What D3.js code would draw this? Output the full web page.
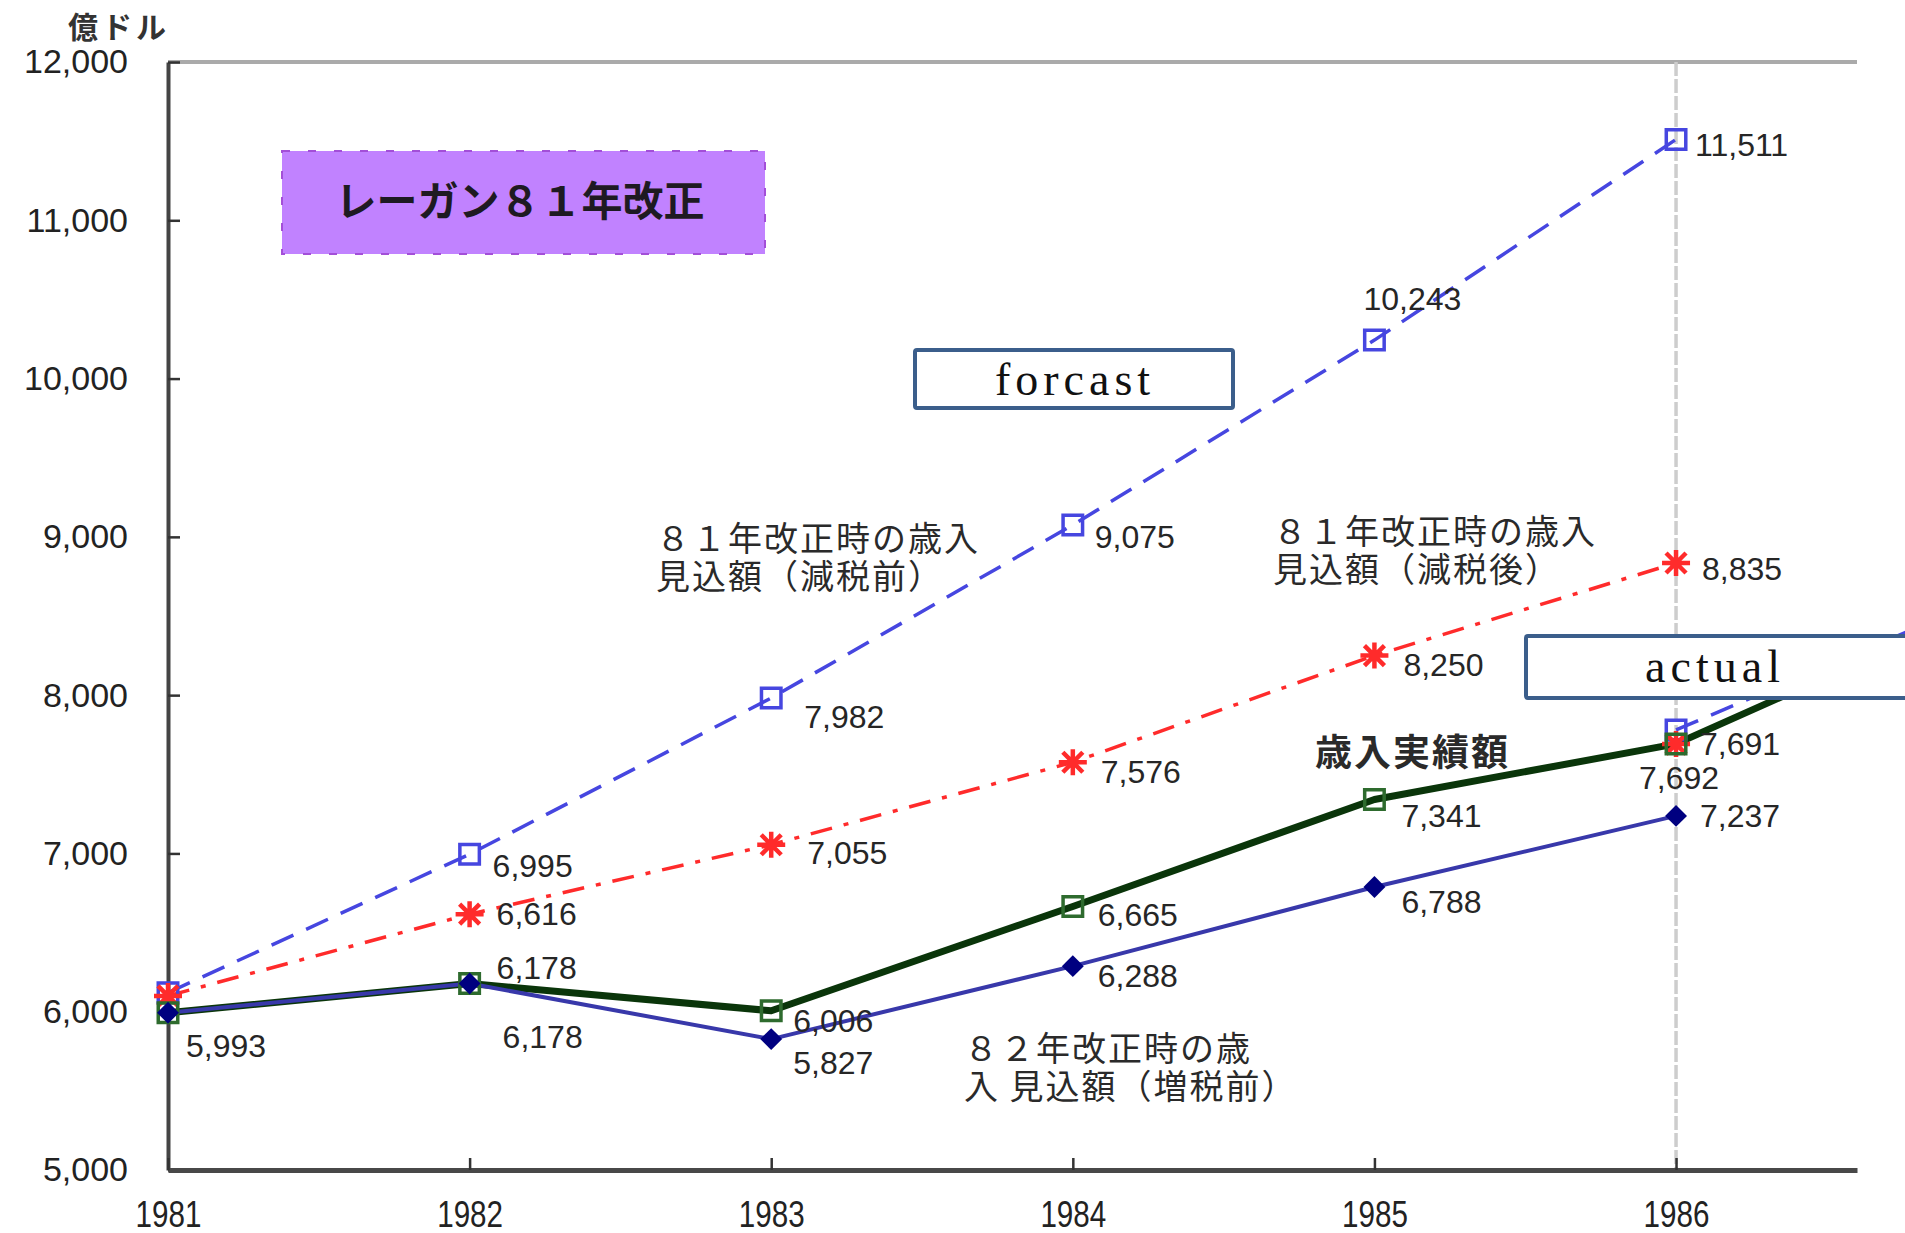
<!DOCTYPE html>
<html>
<head>
<meta charset="utf-8">
<script src="https://cdn.jsdelivr.net/npm/d3@7"></script>
<style>
  html, body { margin: 0; padding: 0; background: #fff; overflow: hidden; }
  svg { display: block; }
</style>
</head>
<body>
<div id="chart"></div>
<script>
// data (億ドル)
var years = [1981, 1982, 1983, 1984, 1985, 1986];
var actualYears = [1981, 1982, 1983, 1984, 1985, 1986, 1987];
var forecast81Before = [6120, 6995, 7982, 9075, 10243, 11511];   // 81年改正時の歳入見込額（減税前）
var forecast81After = [6100, 6616, 7055, 7576, 8250, 8835];      // 81年改正時の歳入見込額（減税後）
var actualRevenue = [5993, 6178, 6006, 6665, 7341, 7692, 8543];  // 歳入実績額
var forecast82Before = [5993, 6178, 5827, 6288, 6788, 7237];     // 82年改正時の歳入見込額（増税前）
var laterYears = [1986, 1987];
var laterBlue = [7780, 8590];
var laterRed = [7691, 8560];
var yTicks = [5000, 6000, 7000, 8000, 9000, 10000, 11000, 12000];
var xTicks = [1981, 1982, 1983, 1984, 1985, 1986];

var width_svg = 1905;
var height_svg = 1233;
var plotLeft = 168, plotRight = 1857, plotTop = 62, plotBottom = 1170;

var svg = d3.select('#chart')
    .append('svg')
    .attr('width', width_svg)
    .attr('height', height_svg);

var x = d3.scaleLinear().domain([1981, 1986.6]).range([plotLeft, plotRight]);
var y = d3.scaleLinear().domain([5000, 12000]).range([plotBottom, plotTop]);

var numFmt = d3.format(',');
var jp = '"Noto Sans CJK JP", "Noto Sans", sans-serif';
var num = '"Liberation Sans", Arial, sans-serif';

// top frame line and 1986 marker line
svg.append('line')
    .attr('x1', plotLeft).attr('x2', plotRight)
    .attr('y1', y(12000)).attr('y2', y(12000))
    .attr('stroke', '#aaa').attr('stroke-width', 4);

svg.append('line')
    .attr('x1', x(1986)).attr('x2', x(1986))
    .attr('y1', y(12000)).attr('y2', y(5000))
    .attr('stroke', '#cdcdcd').attr('stroke-width', 3.5)
    .attr('stroke-dasharray', '14,3');

// axes
var yAxis = svg.append('g')
    .attr('transform', 'translate(' + plotLeft + ',0)')
    .call(d3.axisLeft(y).tickValues(yTicks).tickFormat(numFmt)
        .tickSizeInner(-12).tickSizeOuter(0).tickPadding(40));
yAxis.select('.domain').attr('stroke', '#444').attr('stroke-width', 4);
yAxis.selectAll('.tick line').attr('stroke', '#333').attr('stroke-width', 2.5);
yAxis.selectAll('.tick text')
    .style('font-family', num).style('font-size', '34px').attr('fill', '#222');

var xAxis = svg.append('g')
    .attr('transform', 'translate(0,' + plotBottom + ')')
    .call(d3.axisBottom(x).tickValues(xTicks).tickFormat(d3.format('d'))
        .tickSizeInner(-12).tickSizeOuter(0).tickPadding(31));
xAxis.select('.domain').attr('stroke', '#484848').attr('stroke-width', 5);
xAxis.selectAll('.tick line').attr('stroke', '#333').attr('stroke-width', 2.5);
xAxis.selectAll('.tick text')
    .style('font-family', num).style('font-size', '37px').attr('fill', '#222')
    .attr('transform', 'scale(0.8,1)');

svg.append('text')
    .attr('x', 68).attr('y', 38)
    .text('億ドル')
    .style('font-family', jp).style('font-size', '30px').style('font-weight', 'bold')
    .style('letter-spacing', '4px').attr('fill', '#333');

// series
function pts(xs, vs) {
    return xs.map(function (d, i) { return [d, vs[i]]; });
}
var line = d3.line().x(function (d) { return x(d[0]); }).y(function (d) { return y(d[1]); });

var blueColor = '#4646e0', redColor = '#ff2b2b', greenColor = '#0a350a', navyColor = '#3838aa';

svg.append('path').datum(pts(years, forecast81Before)).attr('d', line)
    .attr('fill', 'none').attr('stroke', blueColor).attr('stroke-width', 3.5)
    .attr('stroke-dasharray', '24,14');
svg.append('path').datum(pts(laterYears, laterBlue)).attr('d', line)
    .attr('fill', 'none').attr('stroke', blueColor).attr('stroke-width', 3.5)
    .attr('stroke-dasharray', '24,14');

svg.append('path').datum(pts(years, forecast81After)).attr('d', line)
    .attr('fill', 'none').attr('stroke', redColor).attr('stroke-width', 3.5)
    .attr('stroke-dasharray', '22,12,5,12');
svg.append('path').datum(pts(laterYears, laterRed)).attr('d', line)
    .attr('fill', 'none').attr('stroke', redColor).attr('stroke-width', 3.5)
    .attr('stroke-dasharray', '22,12,5,12');

svg.append('path').datum(pts(actualYears, actualRevenue)).attr('d', line)
    .attr('fill', 'none').attr('stroke', greenColor).attr('stroke-width', 7)
    .attr('stroke-linejoin', 'round');

svg.append('path').datum(pts(years, forecast82Before)).attr('d', line)
    .attr('fill', 'none').attr('stroke', navyColor).attr('stroke-width', 4)
    .attr('stroke-linejoin', 'round');

// markers
var square = d3.symbol().type(d3.symbolSquare).size(380);
var diamond = d3.symbol().type(d3.symbolSquare).size(240);
var asterisk = 'M-14,0L14,0M0,-13L0,13M-10,-10L10,10M10,-10L-10,10';

function markers(data, kind, color) {
    var g = svg.append('g');
    var m = g.selectAll('path').data(data).join('path')
        .attr('transform', function (d) {
            var t = 'translate(' + x(d[0]) + ',' + y(d[1]) + ')';
            return kind === 'diamond' ? t + ' rotate(45)' : t;
        });
    if (kind === 'square') {
        m.attr('d', square).attr('fill', 'none').attr('stroke', color).attr('stroke-width', 3.5);
    } else if (kind === 'diamond') {
        m.attr('d', diamond).attr('fill', color);
    } else {
        m.attr('d', asterisk).attr('fill', 'none').attr('stroke', color).attr('stroke-width', 4.5);
    }
}

markers(pts(years, forecast81Before), 'square', blueColor);
markers(pts(laterYears, laterBlue).slice(0, 1), 'square', blueColor);
markers(pts(years, forecast81After), 'asterisk', redColor);
markers(pts(laterYears, laterRed).slice(0, 1), 'asterisk', redColor);
markers(pts(actualYears, actualRevenue).slice(0, 6), 'square', '#2e6b2e');
markers(pts(years, forecast82Before), 'diamond', '#000080');

// value labels: offsets from each point [dx, dy], null = no label
function labels(data, offsets) {
    svg.append('g').selectAll('text')
        .data(data.filter(function (d, i) { return offsets[i]; }))
        .join('text')
        .attr('x', function (d) { return x(d[0]) + offsets[data.indexOf(d)][0]; })
        .attr('y', function (d) { return y(d[1]) + offsets[data.indexOf(d)][1]; })
        .attr('dominant-baseline', 'central')
        .text(function (d) { return numFmt(d[1]); })
        .style('font-family', num).style('font-size', '32px').attr('fill', '#262626');
}

labels(pts(years, forecast81Before), [null, [23, 12], [33, 19], [22, 12], [-11, -41], [19, 6]]);
labels(pts(years, forecast81After), [null, [27, 0], [36, 8], [28, 10], [29, 9], [26, 6]]);
labels(pts(actualYears, actualRevenue), [[18, 33], [27, -16], [22, 10], [25, 9], [27, 17], [-37, 34], null]);
labels(pts(years, forecast82Before), [null, [33, 53], [22, 24], [25, 10], [27, 15], [24, 0]]);
labels(pts(laterYears, laterRed), [[24, 0], null]);

// annotations
function note(x0, y0, lines, size, weight, spacing) {
    var t = svg.append('text')
        .style('font-family', jp).style('font-size', size + 'px')
        .style('font-weight', weight).style('letter-spacing', spacing + 'px')
        .attr('fill', '#2a2a2a');
    lines.forEach(function (s, i) {
        t.append('tspan').attr('x', x0).attr('y', y0 + i * 38).text(s);
    });
}
note(656, 551, ['８１年改正時の歳入', '見込額（減税前）'], 34, 'normal', 2);
note(1273, 544, ['８１年改正時の歳入', '見込額（減税後）'], 34, 'normal', 2);
note(964, 1061, ['８２年改正時の歳', '入 見込額（増税前）'], 34, 'normal', 2);
note(1315, 766, ['歳入実績額'], 37, 'bold', 2);

// title box
svg.append('rect')
    .attr('x', 282).attr('y', 151).attr('width', 483).attr('height', 103)
    .attr('fill', '#c182ff').attr('stroke', '#a34fd8').attr('stroke-width', 2)
    .attr('stroke-dasharray', '8,18');
svg.append('text')
    .attr('x', 520).attr('y', 216).attr('text-anchor', 'middle')
    .text('レーガン８１年改正')
    .style('font-family', jp).style('font-size', '41px').style('font-weight', 'bold')
    .attr('fill', '#1e1a22');

// forecast / actual boxes
function tag(x0, y0, w, h, label, cx, by) {
    svg.append('rect')
        .attr('x', x0).attr('y', y0).attr('width', w).attr('height', h).attr('rx', 2)
        .attr('fill', '#fff').attr('stroke', '#3b5e8b').attr('stroke-width', 4);
    svg.append('text')
        .attr('x', cx).attr('y', by).attr('text-anchor', 'middle')
        .text(label)
        .style('font-family', '"Liberation Serif", "DejaVu Serif", serif')
        .style('font-size', '46px').style('letter-spacing', '5px')
        .attr('fill', '#111');
}
tag(915, 350, 318, 58, 'forcast', 1075, 395);
tag(1526, 636, 390, 62, 'actual', 1715, 682);
</script>
</body>
</html>
